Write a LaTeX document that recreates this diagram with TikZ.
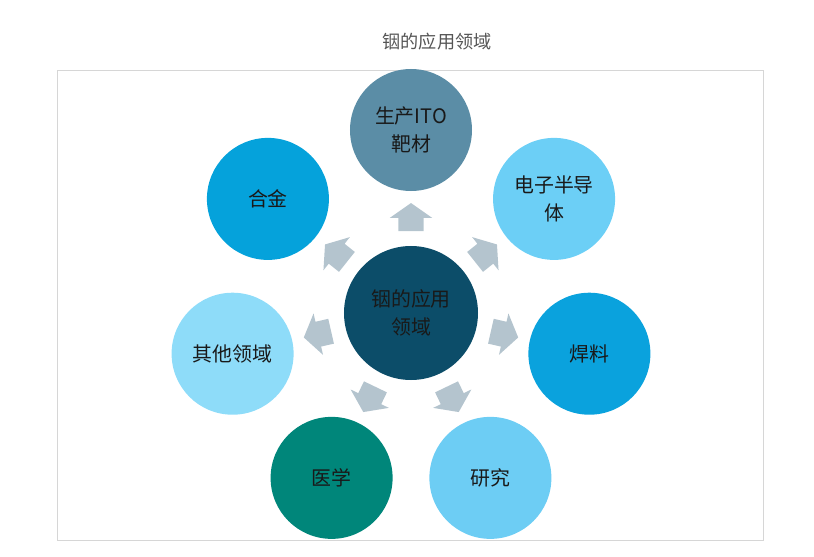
\documentclass[tikz,border=0pt]{standalone}
\usepackage{fontspec}
\setmainfont{Noto Sans CJK SC}
\usetikzlibrary{shapes.arrows,calc}

\definecolor{hubblue}{HTML}{0C4D69}
\definecolor{targetblue}{HTML}{5B8DA6}
\definecolor{alloyblue}{HTML}{05A2DB}
\definecolor{otherblue}{HTML}{8EDCF9}
\definecolor{medteal}{HTML}{00867A}
\definecolor{researchblue}{HTML}{6DCDF4}
\definecolor{solderblue}{HTML}{0AA2DD}
\definecolor{semiblue}{HTML}{6CCFF6}
\definecolor{arrowgray}{HTML}{B4C4CE}
\definecolor{framegray}{HTML}{D6D6D6}
\definecolor{titlegray}{HTML}{555555}

\begin{document}
\begin{tikzpicture}[x=0.03cm, y=0.03cm, % one unit is one pixel of the sketch
		leaf/.style={circle, minimum size=3.66cm, inner sep=0pt, align=center,
				font=\fontsize{17}{24}\selectfont, text=black!90},
		blockarrow/.style={single arrow, fill=arrowgray, draw=none,
				inner xsep=0pt, inner ysep=0.375cm, minimum height=0.84cm,
				single arrow head extend=0.255cm, single arrow tip angle=110}]
		\useasboundingbox (-411,-243) rectangle (403,313);

		% Title and frame
		\node[text=titlegray, font=\fontsize{15.5}{18}\selectfont] (title) at (26,271) {铟的应用领域};
		\draw[framegray, line width=0.8pt] (-354,-227) rectangle (352,243);

		% Centre circle
		\node[leaf, fill=hubblue, minimum size=4.02cm] (hub) at (0,0) {铟的应用\\领域};

		% Outer circles, one every 360/7 degrees
		\foreach \i/\txt/\col in {0/生产ITO\\靶材/targetblue, 1/合金/alloyblue,
				2/其他领域/otherblue, 3/医学/medteal, 4/研究/researchblue,
				5/焊料/solderblue, 6/电子半导\\体/semiblue} {
				\pgfmathsetmacro{\ang}{90+360/7*\i}
				\node[leaf, fill=\col] (leaf\i) at (\ang:183) {\txt};
				\node[blockarrow, rotate=\ang] (arr\i) at ($(hub)!0.5!(leaf\i)$) {};
			}
	\end{tikzpicture}
\end{document}
